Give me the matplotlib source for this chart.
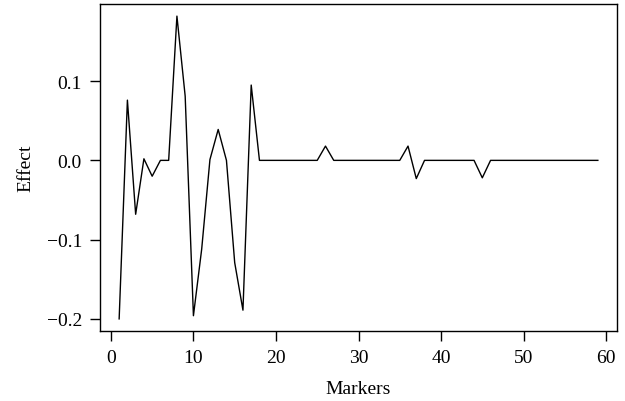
import matplotlib
matplotlib.use("Agg")
import matplotlib.pyplot as plt
import numpy as np

plt.rcParams['font.family'] = ['Liberation Serif', 'DejaVu Serif']
plt.rcParams['axes.unicode_minus'] = True

markers = list(range(1, 60))
effect = [-0.200, 0.076, -0.068, 0.002, -0.020, 0.000, 0.000, 0.182, 0.081, -0.196,
          -0.112, 0.001, 0.039, 0.000, -0.129, -0.189, 0.095, 0.000, 0.000, 0.000,
          0.000, 0.000, 0.000, 0.000, 0.000, 0.018, 0.000, 0.000, 0.000, 0.000,
          0.000, 0.000, 0.000, 0.000, 0.000, 0.018, -0.023, 0.000, 0.000, 0.000,
          0.000, 0.000, 0.000, 0.000, -0.022, 0.000, 0.000, 0.000, 0.000, 0.000,
          0.000, 0.000, 0.000, 0.000, 0.000, 0.000, 0.000, 0.000, 0.000]
xticks = [0, 10, 20, 30, 40, 50, 60]
yticks = [-0.2, -0.1, 0.0, 0.1]
ytick_labels = ['\u22120.2', '\u22120.1', '0.0', '0.1']

fig = plt.figure(figsize=(6.25, 4.02), dpi=100)
ax = fig.add_axes([100/625, 1 - 332/402, 517/625, 327/402])
ax.plot(markers, effect, color='black', lw=1.0)

xmin, xmax = min(markers), max(markers)
ymin, ymax = min(effect), max(effect)
dx = (xmax - xmin) * 0.04
dy = (ymax - ymin) * 0.04
ax.set_xlim(xmin - dx, xmax + dx)
ax.set_ylim(ymin - dy, ymax + dy)

ax.set_xticks(xticks)
ax.set_yticks(yticks)
ax.set_yticklabels(ytick_labels)
ax.tick_params(direction='out', length=7, width=1, labelsize=14, colors='black', pad=6)
for s in ax.spines.values():
    s.set_linewidth(1.0)
ax.set_xlabel('Markers', fontsize=14, labelpad=10)
ax.set_ylabel('Effect', fontsize=14, labelpad=9)

fig.savefig('out.png', dpi=100)
